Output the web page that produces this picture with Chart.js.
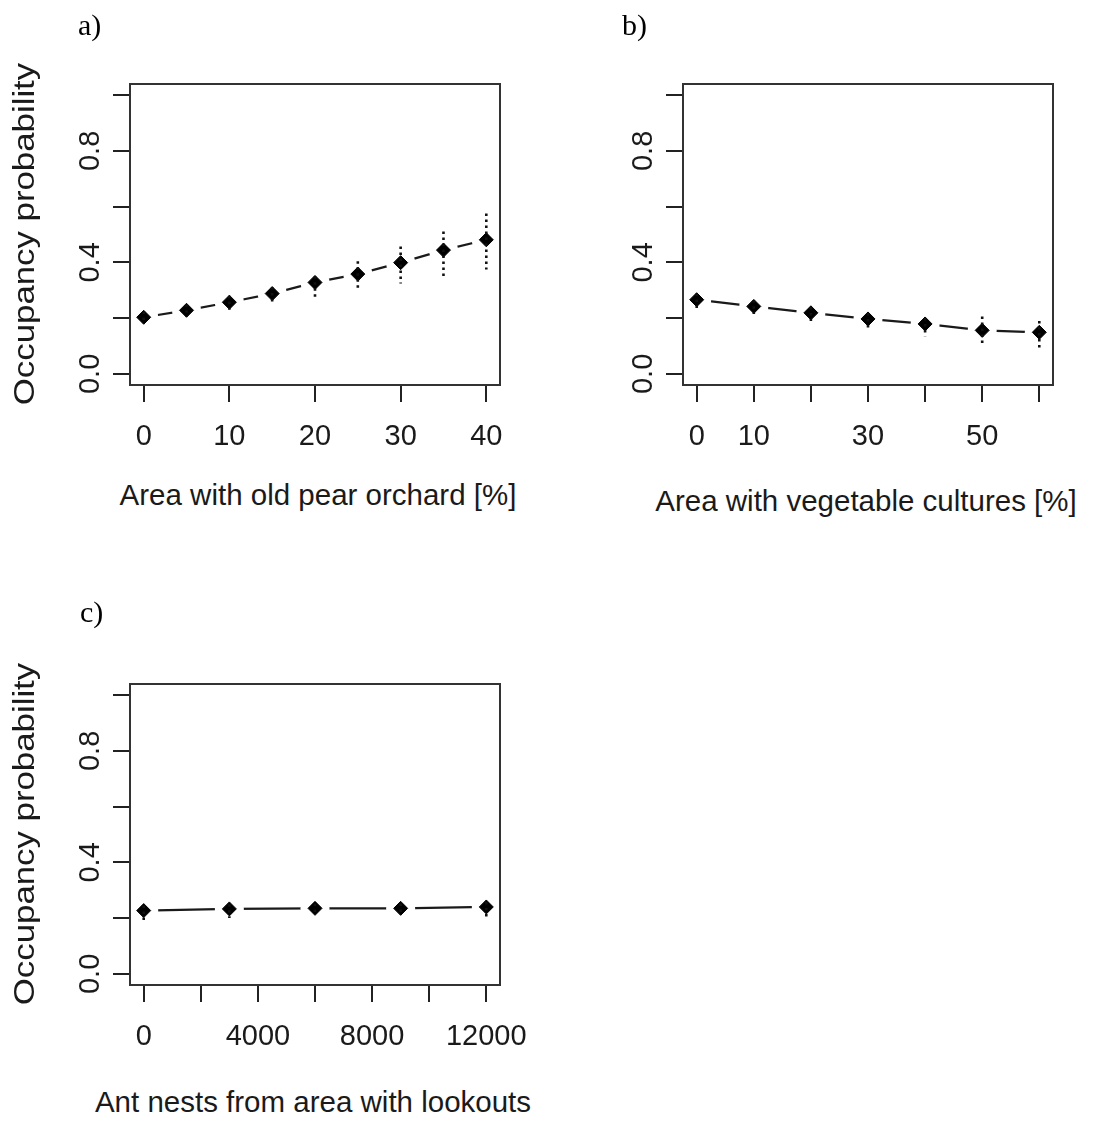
<!DOCTYPE html>
<html>
<head>
<meta charset="utf-8">
<script src="https://cdn.jsdelivr.net/npm/chart.js@4.4.1/dist/chart.umd.min.js"></script>
<style>
  body { margin: 0; background: #fff; width: 1096px; height: 1122px; position: relative; overflow: hidden;
         font-family: "Liberation Sans", Arial, sans-serif; color: #1a1a1a; }
  canvas { position: absolute; }
  .ttl { position: absolute; white-space: nowrap; font-size: 29.5px; line-height: 29.5px; transform: translateX(-50%); }
  .ytl { position: absolute; white-space: nowrap; font-size: 29px; line-height: 29px;
         transform: translate(-50%, -50%) rotate(-90deg) scaleX(1.2); }
  .tag { position: absolute; font-family: "Liberation Serif", "Times New Roman", serif; font-size: 30px; line-height: 30px; color: #000; }
</style>
</head>
<body>
<canvas id="chartA" width="548" height="470" style="left:0;top:0"></canvas>
<canvas id="chartB" width="548" height="470" style="left:548px;top:0"></canvas>
<canvas id="chartC" width="548" height="470" style="left:0;top:600px"></canvas>

<div class="tag" style="left:78px;top:10px">a)</div>
<div class="tag" style="left:622px;top:10px">b)</div>
<div class="tag" style="left:80px;top:597px">c)</div>

<div class="ytl" style="left:24px;top:234px">Occupancy probability</div>
<div class="ytl" style="left:24px;top:834px">Occupancy probability</div>

<div class="ttl" style="left:318px;top:480px">Area with old pear orchard [%]</div>
<div class="ttl" style="left:866px;top:486px">Area with vegetable cultures [%]</div>
<div class="ttl" style="left:313px;top:1087px">Ant nests from area with lookouts</div>

<script>
// y axis, shared by all three panels
const yTicks = [0, 0.2, 0.4, 0.6, 0.8, 1.0];
const yTickLabels = ['0.0', '', '0.4', '', '0.8', ''];

// a) old pear orchard
const orchardPct = [0, 5, 10, 15, 20, 25, 30, 35, 40];
const orchardOcc = [0.203, 0.228, 0.257, 0.288, 0.328, 0.358, 0.399, 0.444, 0.481];
const orchardLow = [0.182, 0.205, 0.230, 0.255, 0.276, 0.302, 0.324, 0.344, 0.374];
const orchardHigh = [0.224, 0.250, 0.280, 0.312, 0.350, 0.404, 0.457, 0.511, 0.575];
const orchardTicks = [0, 10, 20, 30, 40];
const orchardTickLabels = ['0', '10', '20', '30', '40'];

// b) vegetable cultures
const vegPct = [0, 10, 20, 30, 40, 50, 60];
const vegOcc = [0.266, 0.242, 0.219, 0.197, 0.179, 0.156, 0.149];
const vegLow = [0.235, 0.215, 0.190, 0.160, 0.135, 0.108, 0.087];
const vegHigh = [0.288, 0.264, 0.240, 0.218, 0.200, 0.206, 0.190];
const vegTicks = [0, 10, 20, 30, 40, 50, 60];
const vegTickLabels = ['0', '10', '', '30', '', '50', ''];

// c) ant nests
const antNests = [0, 3000, 6000, 9000, 12000];
const antOcc = [0.227, 0.233, 0.235, 0.235, 0.240];
const antLow = [0.190, 0.200, 0.220, 0.218, 0.205];
const antHigh = [0.245, 0.250, 0.252, 0.252, 0.258];
const antTicks = [0, 2000, 4000, 6000, 8000, 10000, 12000];
const antTickLabels = ['0', '', '4000', '', '8000', '', '12000'];

const tickFont = { family: '"Liberation Sans", Arial, sans-serif', size: 29 };

function makePanel(id, xs, ys, lo, hi, xTicks, xLabels, xMin, xMax, axisW, padRight) {
  const pts = xs.map((x, i) => ({ x: x, y: ys[i] }));

  // dotted whiskers + the R-style box round the plot region
  const whiskers = {
    id: 'whiskers',
    afterDatasetsDraw(chart) {
      const { ctx, chartArea: a } = chart;
      const sx = chart.scales.x, sy = chart.scales.y;
      ctx.save();
      ctx.strokeStyle = '#111';
      ctx.lineWidth = 2.6;
      ctx.setLineDash([2.5, 3.5]);
      xs.forEach((v, i) => {
        const px = sx.getPixelForValue(v);
        ctx.beginPath();
        ctx.moveTo(px, sy.getPixelForValue(hi[i]));
        ctx.lineTo(px, sy.getPixelForValue(lo[i]));
        ctx.stroke();
      });
      ctx.setLineDash([]);
      ctx.strokeStyle = '#333';
      ctx.lineWidth = 2;
      ctx.strokeRect(a.left, a.top, a.width, a.height);
      ctx.restore();
    }
  };

  const grid = { drawOnChartArea: false, drawTicks: true, tickLength: 17, color: '#222', lineWidth: 2 };

  return new Chart(document.getElementById(id), {
    type: 'scatter',
    data: {
      datasets: [
        { data: pts, showLine: true, borderColor: '#1a1a1a', borderWidth: 2.2, pointRadius: 0, order: 3 },
        // white halo leaves the gap round each point, like R's type = "b"
        { data: pts, showLine: false, pointRadius: 14.5, pointBackgroundColor: '#fff', pointBorderWidth: 0, order: 2 },
        { data: pts, showLine: false, pointStyle: 'rectRot', pointRadius: 7, pointBackgroundColor: '#000',
          pointBorderColor: '#000', pointBorderWidth: 1, order: 1 }
      ]
    },
    options: {
      responsive: false,
      animation: false,
      events: [],
      layout: { padding: { top: 84, right: padRight, left: 0, bottom: 0 } },
      plugins: { legend: { display: false }, tooltip: { enabled: false } },
      scales: {
        x: {
          type: 'linear', min: xMin, max: xMax,
          afterBuildTicks: s => { s.ticks = xTicks.map(v => ({ value: v })); },
          afterFit: s => { s.height = 85; },
          grid: grid,
          border: { display: false },
          ticks: { autoSkip: false, minRotation: 0, maxRotation: 0, padding: 18, font: tickFont, color: '#1a1a1a',
                   callback: (v, i) => xLabels[i] }
        },
        y: {
          type: 'linear', min: -0.04, max: 1.04,
          afterBuildTicks: s => { s.ticks = yTicks.map(v => ({ value: v })); },
          afterFit: s => { s.width = axisW; },
          grid: grid,
          border: { display: false },
          ticks: { autoSkip: false, minRotation: 90, maxRotation: 90, crossAlign: 'center', padding: 2,
                   font: tickFont, color: '#1a1a1a', callback: (v, i) => yTickLabels[i] }
        }
      }
    },
    plugins: [whiskers]
  });
}

makePanel('chartA', orchardPct, orchardOcc, orchardLow, orchardHigh, orchardTicks, orchardTickLabels, -1.6, 41.6, 130, 48);
makePanel('chartB', vegPct, vegOcc, vegLow, vegHigh, vegTicks, vegTickLabels, -2.4, 62.4, 135, 43);
makePanel('chartC', antNests, antOcc, antLow, antHigh, antTicks, antTickLabels, -480, 12480, 130, 48);
</script>
</body>
</html>
